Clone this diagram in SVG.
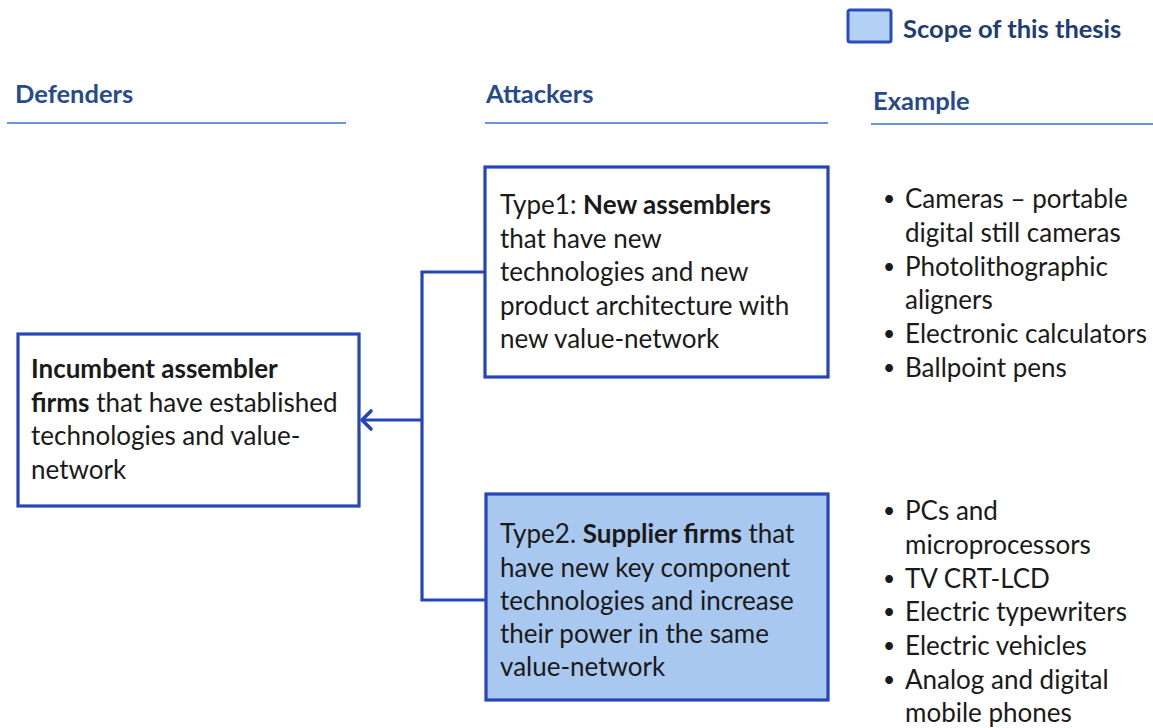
<svg xmlns="http://www.w3.org/2000/svg" width="1153" height="728" viewBox="0 0 1153 728">
  <style>
    .hdr { font-family: Lato, "Liberation Sans", sans-serif; font-weight: bold; font-size: 25.5px; fill: #264a8c; }
    .rule { stroke: #3d6fd6; stroke-width: 1.5; }
    .box { stroke: #2745b8; stroke-width: 3.2; }
    .body { font-family: Lato, "Liberation Sans", sans-serif; font-size: 26px; fill: #1a1a1a; }
    .b { font-weight: bold; }
    .dot { font-size: 21px; }
    .conn { stroke: #2745b8; stroke-width: 3.2; fill: none; }
  </style>
  <defs>
    <!-- open chevron, drawn along the line direction -->
    <marker id="chev" viewBox="0 0 24 24" refX="20" refY="12" markerWidth="24" markerHeight="24" markerUnits="userSpaceOnUse" orient="auto" overflow="visible">
      <path d="M11,3 L20,12 L11,21" fill="none" stroke="#2745b8" stroke-width="3.6" stroke-linecap="round" stroke-linejoin="round"/>
    </marker>
  </defs>
  <rect width="1153" height="728" fill="#ffffff"/>

  <!-- legend -->
  <g id="legend">
    <rect x="848" y="10" width="43" height="32" rx="2" fill="#b3d1f4" stroke="#2a4cbc" stroke-width="3"/>
    <text x="903" y="38" class="hdr" style="fill:#1f3c73">Scope of this thesis</text>
  </g>

  <!-- column headings -->
  <g id="headings">
    <text x="15" y="103" class="hdr">Defenders</text>
    <line x1="7" y1="123" x2="346" y2="123" class="rule"/>
    <text x="486" y="103" class="hdr">Attackers</text>
    <line x1="485" y1="123" x2="828" y2="123" class="rule"/>
    <text x="873" y="110" class="hdr">Example</text>
    <line x1="871" y1="124" x2="1153" y2="124" class="rule"/>
  </g>

  <!-- connectors -->
  <g id="connectors">
    <path d="M487,272 H422 V600 H487" class="conn"/>
    <line x1="422" y1="420" x2="362" y2="420" class="conn" marker-end="url(#chev)"/>
  </g>

  <g id="defender">
    <rect x="18" y="334" width="341" height="172" fill="#ffffff" class="box"/>
    <text class="body">
      <tspan x="31" y="378" class="b">Incumbent assembler</tspan>
      <tspan x="31" y="412"><tspan class="b">firms</tspan> that have established</tspan>
      <tspan x="31" y="445">technologies and value-</tspan>
      <tspan x="31" y="479">network</tspan>
    </text>
  </g>

  <g id="type1">
    <rect x="485" y="167" width="343" height="210" fill="#ffffff" class="box"/>
    <text class="body">
      <tspan x="500" y="214">Type1: <tspan class="b">New assemblers</tspan></tspan>
      <tspan x="500" y="248">that have new</tspan>
      <tspan x="500" y="281">technologies and new</tspan>
      <tspan x="500" y="315">product architecture with</tspan>
      <tspan x="500" y="348">new value-network</tspan>
    </text>
  </g>

  <g id="type2">
    <rect x="486" y="494" width="342" height="206" fill="#a9c8ef" class="box"/>
    <text class="body">
      <tspan x="500" y="543">Type2. <tspan class="b">Supplier firms</tspan> that</tspan>
      <tspan x="500" y="577">have new key component</tspan>
      <tspan x="500" y="610">technologies and increase</tspan>
      <tspan x="500" y="643">their power in the same</tspan>
      <tspan x="500" y="676">value-network</tspan>
    </text>
  </g>

  <g id="examples-type1">
    <text class="body">
      <tspan x="883" y="206" class="dot">•</tspan><tspan x="905" y="208">Cameras – portable</tspan>
      <tspan x="905" y="242">digital still cameras</tspan>
      <tspan x="883" y="274" class="dot">•</tspan><tspan x="905" y="276">Photolithographic</tspan>
      <tspan x="905" y="309">aligners</tspan>
      <tspan x="883" y="341" class="dot">•</tspan><tspan x="905" y="343">Electronic calculators</tspan>
      <tspan x="883" y="375" class="dot">•</tspan><tspan x="905" y="377">Ballpoint pens</tspan>
    </text>
  </g>

  <g id="examples-type2">
    <text class="body">
      <tspan x="883" y="518" class="dot">•</tspan><tspan x="905" y="520">PCs and</tspan>
      <tspan x="905" y="554">microprocessors</tspan>
      <tspan x="883" y="586" class="dot">•</tspan><tspan x="905" y="588">TV CRT-LCD</tspan>
      <tspan x="883" y="619" class="dot">•</tspan><tspan x="905" y="621">Electric typewriters</tspan>
      <tspan x="883" y="653" class="dot">•</tspan><tspan x="905" y="655">Electric vehicles</tspan>
      <tspan x="883" y="687" class="dot">•</tspan><tspan x="905" y="689">Analog and digital</tspan>
      <tspan x="905" y="722">mobile phones</tspan>
    </text>
  </g>
</svg>
